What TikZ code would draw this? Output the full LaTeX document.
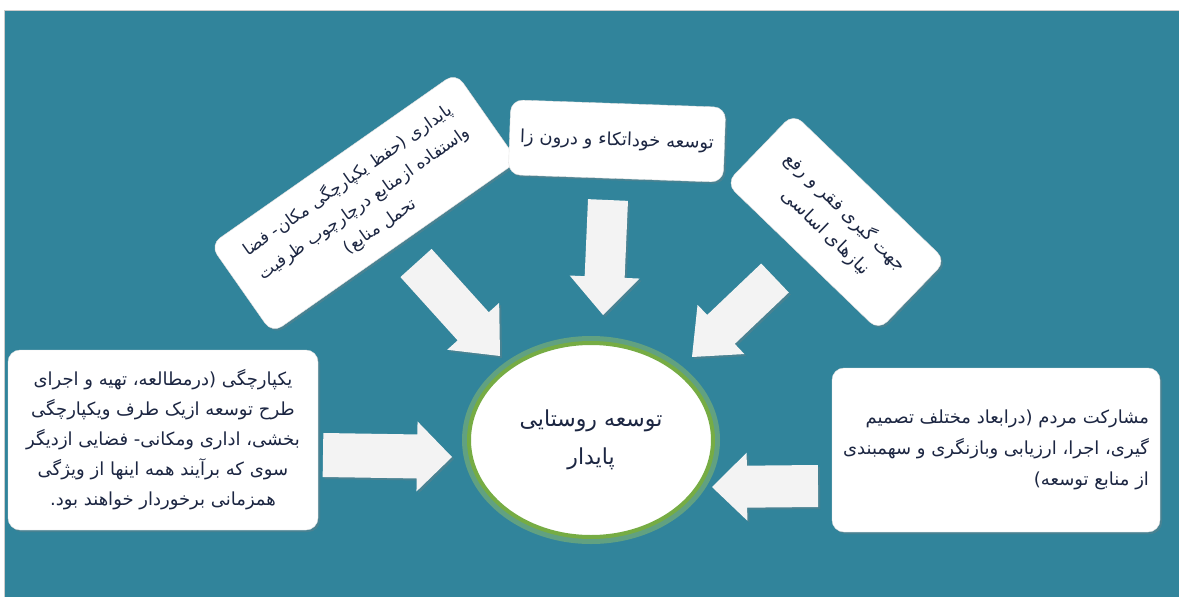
\documentclass[tikz,border=0pt]{standalone}
\usepackage{fontspec}
\newfontfamily\farsi[Script=Arabic]{DejaVu Sans}
\TeXXeTstate=1
\usetikzlibrary{calc,shadows,shapes.geometric}
\definecolor{bgteal}{RGB}{49,132,155}
\definecolor{txt}{RGB}{28,38,66}
\definecolor{arr}{RGB}{243,243,243}
\definecolor{ringgreen}{RGB}{118,172,68}
\definecolor{glowgreen}{RGB}{170,205,90}
\newcommand{\fa}[1]{\beginR #1\endR}
\newcommand{\blockarrow}[5]{%
  \coordinate (bac) at ($(#2)!#5!(#1)$);
  \path[barrow] ($(#1)!#3!90:(#2)$) -- ($(bac)!#3!90:(#2)$) -- ($(bac)!#4!90:(#2)$) -- (#2)
     -- ($(bac)!#4!-90:(#2)$) -- ($(bac)!#3!-90:(#2)$) -- ($(#1)!#3!-90:(#2)$) -- cycle;
}
\tikzset{
  box/.style={draw=black!12, fill=white, rounded corners=12pt, text=txt, align=center,
    inner sep=0pt, font=\farsi\fontsize{18}{28}\selectfont,
    drop shadow={opacity=0.3, shadow xshift=2pt, shadow yshift=-2pt}},
  barrow/.style={fill=arr, draw=none,
    drop shadow={opacity=0.3, shadow xshift=2pt, shadow yshift=-2pt}},
}
\begin{document}
\begin{tikzpicture}[x=1pt,y=-1pt]
\useasboundingbox (0,0) rectangle (1179,597);
\fill[white] (0,0) rectangle (1179,597);
\fill[bgteal] (4,10) rectangle (1179,597);
\draw[black!20, line width=1pt] (4,597) -- (4,10) -- (1179,10);

% boxes
\node[box, minimum width=300pt, minimum height=108pt, rotate=35, font=\farsi\fontsize{17}{28}\selectfont] (bA) at (364,203)
  {\fa{پایداری (حفظ یکپارچگی مکان- فضا}\\\fa{واستفاده ازمنابع درچارچوب ظرفیت}\\\fa{تحمل منابع)}};
\node[box, minimum width=215pt, minimum height=75pt, rotate=-2] (bB) at (617,141)
  {\fa{توسعه خوداتکاء و درون زا}};
\node[box, minimum width=212pt, minimum height=97pt, rotate=-44] (bC) at (836,222)
  {\fa{جهت گیری فقر و رفع}\\\fa{نیازهای اساسی}};
\node[box, minimum width=310pt, minimum height=180pt, font=\farsi\fontsize{18}{30}\selectfont] (bD) at (163,440)
  {\fa{یکپارچگی (درمطالعه، تهیه و اجرای}\\\fa{طرح توسعه ازیک طرف ویکپارچگی}\\\fa{بخشی، اداری ومکانی- فضایی ازدیگر}\\\fa{سوی که برآیند همه اینها از ویژگی}\\\fa{همزمانی برخوردار خواهند بود.}};
\node[box, minimum width=328pt, minimum height=164pt, align=right, font=\farsi\fontsize{18}{31}\selectfont] (bE) at (996,450)
  {\fa{مشارکت مردم (درابعاد مختلف تصمیم}\\\fa{گیری، اجرا، ارزیابی وبازنگری و سهمبندی}\\\fa{از منابع توسعه)}};

% centre
\node[ellipse, fill=white, draw=ringgreen, line width=4pt, minimum width=244pt, minimum height=194pt,
  preaction={draw=glowgreen, line width=14pt, opacity=0.4},
  text=txt, align=center, font=\farsi\fontsize{22}{38}\selectfont] (core) at (591,440)
  {\fa{توسعه روستایی}\\\fa{پایدار}};

% arrow end points
\coordinate (tA) at (416,263); \coordinate (hA) at (500,356);
\coordinate (tB) at (608,200); \coordinate (hB) at (603,315);
\coordinate (tC) at (775,278); \coordinate (hC) at (692,357);
\coordinate (tD) at (323,455); \coordinate (hD) at (452,457);
\coordinate (tE) at (818,486); \coordinate (hE) at (712,487);
\blockarrow{tA}{hA}{21pt}{35pt}{40pt}
\blockarrow{tB}{hB}{20pt}{35pt}{38pt}
\blockarrow{tC}{hC}{20pt}{34pt}{40pt}
\blockarrow{tD}{hD}{22pt}{35pt}{35pt}
\blockarrow{tE}{hE}{21pt}{34pt}{35pt}
\end{tikzpicture}
\end{document}
